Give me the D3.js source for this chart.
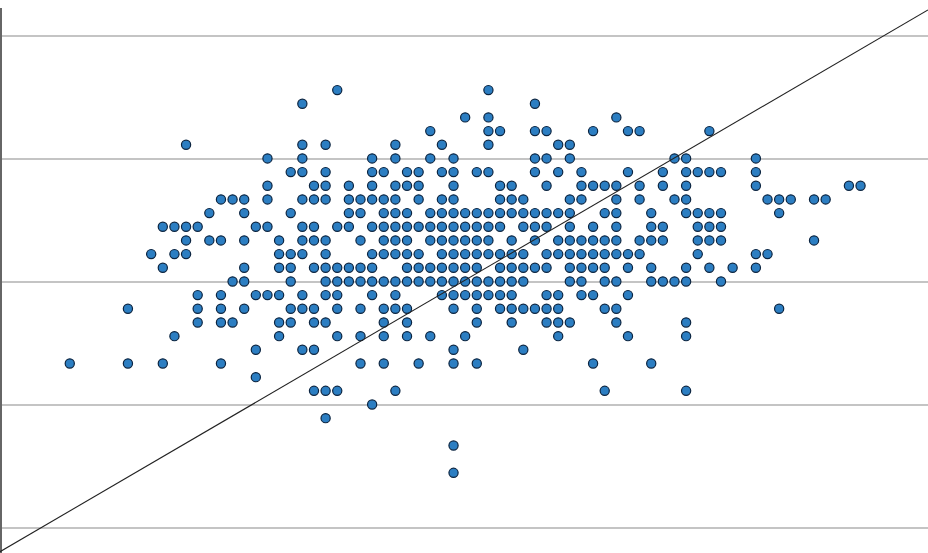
<!DOCTYPE html>
<html>
<head>
<meta charset="utf-8">
<script src="https://cdn.jsdelivr.net/npm/d3@7/dist/d3.min.js"></script>
<style>
  html, body { margin: 0; padding: 0; background: #fff; }
  svg { display: block; }
</style>
</head>
<body>
<svg id="chart" width="928" height="553"></svg>
<script>
// ---- data ----
// y level (row value) and the x values of the points on that level
const yLevels = [14, 13, 12, 11, 10, 9, 8, 7, 6, 5, 4, 3, 2, 1, 0, -1, -2, -3, -4, -5, -6, -7, -8, -9, -10, -12, -14];
const xByLevel = [
  [23, 36],
  [20, 40],
  [34, 36, 47],
  [31, 36, 37, 40, 41, 45, 48, 49, 55],
  [10, 20, 22, 28, 32, 36, 42, 43],
  [17, 20, 26, 28, 31, 33, 40, 41, 43, 52, 53, 59],
  [19, 20, 22, 26, 27, 29, 30, 32, 33, 35, 36, 40, 42, 44, 48, 51, 53, 54, 55, 56, 59],
  [17, 21, 22, 24, 26, 28, 29, 30, 33, 37, 38, 41, 44, 45, 46, 47, 49, 51, 53, 59, 67, 68],
  [13, 14, 15, 17, 20, 21, 22, 24, 25, 26, 27, 28, 30, 32, 33, 37, 38, 39, 43, 44, 47, 49, 52, 53, 60, 61, 62, 64, 65],
  [12, 15, 19, 24, 25, 27, 28, 29, 31, 32, 33, 34, 35, 36, 37, 38, 39, 40, 41, 42, 43, 46, 47, 50, 53, 54, 55, 56, 61],
  [8, 9, 10, 11, 16, 17, 20, 21, 23, 24, 26, 27, 28, 29, 30, 31, 32, 33, 34, 35, 36, 37, 39, 40, 41, 43, 45, 47, 50, 51, 54, 55, 56],
  [10, 12, 13, 15, 18, 20, 21, 22, 25, 27, 28, 29, 31, 32, 33, 34, 35, 36, 38, 40, 42, 43, 44, 45, 46, 47, 49, 50, 51, 54, 55, 56, 64],
  [7, 9, 10, 18, 19, 20, 22, 26, 27, 28, 29, 30, 32, 33, 34, 35, 36, 37, 38, 39, 41, 42, 43, 44, 45, 46, 47, 48, 49, 54, 59, 60],
  [8, 15, 18, 19, 21, 22, 23, 24, 25, 26, 29, 30, 31, 32, 33, 34, 35, 37, 38, 39, 40, 41, 43, 44, 45, 46, 48, 50, 53, 55, 57, 59],
  [14, 15, 19, 22, 23, 24, 25, 26, 27, 28, 29, 30, 31, 32, 33, 34, 35, 36, 37, 38, 39, 43, 44, 46, 47, 50, 51, 52, 53, 56],
  [11, 13, 16, 17, 18, 20, 22, 23, 26, 28, 32, 33, 34, 35, 36, 37, 38, 41, 42, 44, 45, 48],
  [5, 11, 13, 15, 19, 20, 21, 23, 25, 27, 28, 29, 33, 35, 37, 38, 39, 40, 41, 42, 46, 47, 61],
  [11, 13, 14, 18, 19, 21, 22, 27, 29, 35, 38, 41, 42, 43, 47, 53],
  [9, 18, 23, 25, 27, 29, 31, 34, 42, 48, 53],
  [16, 20, 21, 33, 39],
  [0, 5, 8, 13, 25, 27, 30, 33, 35, 45, 50],
  [16],
  [21, 22, 23, 28, 46, 53],
  [26],
  [22],
  [33],
  [33]
];
const yTicks = [-18, -9, 0, 9, 18];
const xDomain = [-6, 73.8];
const yDomain = [-18, 18];
const refSlope = 0.4966;
const refIntercept = -16.79;

// ---- chart ----
const W = 928, H = 553;
const svg = d3.select("#chart");

const x = d3.scaleLinear().domain(xDomain).range([0, W]);
const y = d3.scaleLinear().domain(yDomain).range([527.5, 35.4]);

const points = [];
yLevels.forEach((lv, i) => xByLevel[i].forEach(v => points.push({x: v, y: lv})));

// gridlines via axis
const grid = svg.append("g")
  .call(d3.axisLeft(y).tickValues(yTicks).tickSize(-W).tickFormat(""));
grid.select(".domain").remove();
grid.selectAll(".tick line")
  .attr("stroke", "#c4c4c4")
  .attr("stroke-width", 1.3)
  .attr("shape-rendering", "crispEdges");

// left axis line
svg.append("line")
  .attr("x1", 1).attr("x2", 1)
  .attr("y1", 8).attr("y2", H)
  .attr("stroke", "#666")
  .attr("stroke-width", 2);

// points
svg.append("g").selectAll("circle")
  .data(points)
  .join("circle")
  .attr("cx", d => x(d.x))
  .attr("cy", d => y(d.y))
  .attr("r", 4.6)
  .attr("fill", "#2c7ec2")
  .attr("stroke", "#0b2440")
  .attr("stroke-width", 1.2);

// reference line
const lineData = xDomain.map(v => ({x: v, y: refIntercept + refSlope * v}));
svg.append("path")
  .datum(lineData)
  .attr("d", d3.line().x(d => x(d.x)).y(d => y(d.y)))
  .attr("fill", "none")
  .attr("stroke", "#222")
  .attr("stroke-width", 1.1);
</script>
</body>
</html>
